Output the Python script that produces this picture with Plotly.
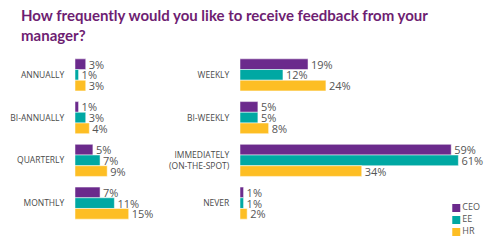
import plotly.graph_objects as go

left_cats = ["ANNUALLY", "BI-ANNUALLY", "QUARTERLY", "MONTHLY"]
right_cats = ["WEEKLY", "BI-WEEKLY", "IMMEDIATELY<br>(ON-THE-SPOT)", "NEVER"]
series = ["CEO", "EE", "HR"]
left_vals = {"CEO": [3, 1, 5, 7], "EE": [1, 3, 7, 11], "HR": [3, 4, 9, 15]}
right_vals = {"CEO": [19, 5, 59, 1], "EE": [12, 5, 61, 1], "HR": [24, 8, 34, 2]}
colors = {"CEO": "#6B2A8C", "EE": "#00A8A3", "HR": "#FDBE24"}
title = "How frequently would you like to receive feedback from your<br>manager?"

W, H = 499, 241
TOP, BOT = 53.5, 224.5
fig = go.Figure()
for ax, cats, vals in [("", left_cats, left_vals), ("2", right_cats, right_vals)]:
    for s in series:
        fig.add_trace(go.Bar(
            y=cats, x=vals[s], orientation="h", name=s,
            xaxis="x" + ax, yaxis="y" + ax,
            marker=dict(color=colors[s], line=dict(color="white", width=0.5)),
            text=[f"{v}%" for v in vals[s]], textposition="outside",
            textfont=dict(size=11, color="#555555", family="Open Sans"),
            constraintext="none", cliponaxis=False, showlegend=False,
        ))

# legend built from the series names
fig.add_trace(go.Scatter(
    x=[0] * len(series), y=list(range(len(series))), xaxis="x3", yaxis="y3",
    mode="markers+text", text=series, textposition="middle right",
    marker=dict(symbol="square", size=8, color=[colors[s] for s in series]),
    textfont=dict(size=9, color="#555555", family="Open Sans"),
    showlegend=False, cliponaxis=False, hoverinfo="skip",
))

scale = 3.58
ydom = [(H - BOT) / H, (H - TOP) / H]
yax = dict(autorange="reversed", showgrid=False, zeroline=False, showline=False,
           ticks="outside", ticklen=8, tickcolor="rgba(0,0,0,0)",
           tickfont=dict(size=8.5, color="#4a4a4a", family="Open Sans"), domain=ydom)
fig.update_layout(
    width=W, height=H,
    margin=dict(l=0, r=0, t=0, b=0),
    barmode="group", bargap=0.25, bargroupgap=0,
    plot_bgcolor="white", paper_bgcolor="white",
    xaxis=dict(domain=[75 / W, 200 / W], range=[0, 125 / scale], visible=False),
    xaxis2=dict(domain=[240 / W, 490 / W], range=[0, 250 / scale], visible=False),
    yaxis=dict(yax, anchor="x"),
    yaxis2=dict(yax, anchor="x2"),
    xaxis3=dict(domain=[452 / W, 499 / W], range=[-0.5, 5], visible=False),
    yaxis3=dict(domain=[(H - 238) / H, (H - 202) / H], range=[2.5, -0.5], visible=False,
                anchor="x3"),
    annotations=[dict(text="<b>" + title + "</b>", xref="paper", yref="paper",
                      x=19 / W, y=1 - 4 / H, xanchor="left", yanchor="top", align="left",
                      showarrow=False,
                      font=dict(size=15, color="#6E1E72", family="Lato"))],
    showlegend=False,
)
fig.write_html("out.html")
